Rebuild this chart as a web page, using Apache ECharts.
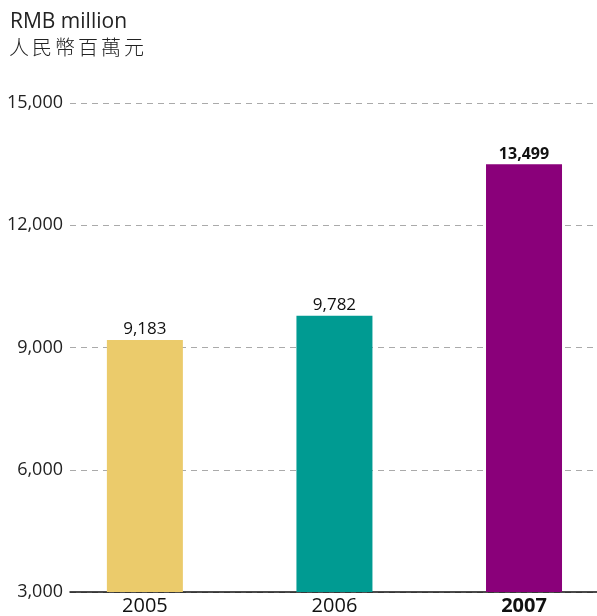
<!DOCTYPE html>
<html><head><meta charset="utf-8">
<script src="https://cdn.jsdelivr.net/npm/echarts@6/dist/echarts.min.js"></script>
<style>html,body{margin:0;padding:0;background:#fff}#c{width:597px;height:616px}</style>
</head><body><div id="c"></div>
<script>
var categories = ['2005', '2006', '2007'];
var values = [9183, 9782, 13499];
var colors = ['#EBCB6B', '#009B92', '#8A007A'];
var yTicks = [3000, 6000, 9000, 12000, 15000];
var unitEn = 'RMB million';
var unitZh = '人民幣百萬元';

var font = '"Open Sans", "Noto Sans", sans-serif';
var chart = echarts.init(document.getElementById('c'));
chart.setOption({
  animation: false,
  title: [
    {text: unitEn, left: 5, top: 7, textStyle: {fontFamily: font, fontSize: 21, fontWeight: 'normal', color: '#222'}}
  ],
  graphic: unitZh.split('').map(function (ch, i) {
    return {type: 'text', left: 9 + i * 23, top: 37,
      style: {text: ch, font: '300 20px "Noto Sans CJK TC", sans-serif', fill: '#222'}};
  }),
  grid: {left: 70, right: 0, top: 103, bottom: 23},
  xAxis: {
    type: 'value', min: -0.395, max: 2.385,
    splitLine: {show: false},
    axisTick: {show: false},
    axisLine: {show: true, onZero: false, lineStyle: {color: '#111', width: 1.5}},
    axisLabel: {
      customValues: [0, 1, 2], margin: 4,
      fontFamily: font, fontSize: 20, color: '#111',
      formatter: function (v) {
        var i = Math.round(v);
        return i === categories.length - 1 ? '{b|' + categories[i] + '}' : categories[i];
      },
      rich: {b: {fontFamily: font, fontSize: 20, fontWeight: 'bold', color: '#111'}}
    }
  },
  yAxis: {
    type: 'value', min: yTicks[0], max: yTicks[yTicks.length - 1], interval: 3000,
    axisLine: {show: false}, axisTick: {show: false},
    axisLabel: {margin: 7, fontFamily: font, fontSize: 18, color: '#222',
      formatter: function (v) { return v.toLocaleString('en-US'); }},
    splitLine: {lineStyle: {type: [6, 5], color: '#aaa', width: 1}}
  },
  series: [{
    type: 'bar', barWidth: 76,
    data: values.map(function (v, i) {
      var last = i === values.length - 1;
      return {
        value: [i, v],
        itemStyle: {color: colors[i]},
        label: {fontWeight: last ? 'bold' : 'normal', fontSize: last ? 16 : 17}
      };
    }),
    label: {
      show: true, position: 'top', distance: 2,
      fontFamily: font, fontSize: 17, color: '#111',
      formatter: function (p) { return p.value[1].toLocaleString('en-US'); }
    }
  }]
});
</script></body></html>
